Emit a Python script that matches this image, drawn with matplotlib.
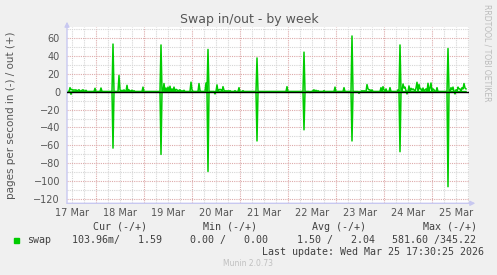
import numpy as np
import matplotlib
matplotlib.use('Agg')
import matplotlib.pyplot as plt

# hours since 17 Mar 00:00, 30 min steps; only non-zero samples listed
out_hours = [11, 11.5, 12, 12.5, 13, 13.5, 14, 15, 15.5, 16, 17, 17.5, 18, 19,
             23.5, 26.5, 32.5, 35.5, 36, 37, 38, 39.5, 40.5, 41.5, 42, 43, 47.5,
             56.5, 58, 59, 60, 61, 62, 63, 64, 64.5, 65.5, 66, 67, 68, 71.5, 72,
             75.5, 76, 79, 80, 84.5, 85.5, 86, 86.5, 87.5, 88, 89, 90, 91, 93.5,
             95.5, 97.5, 104.5, 119.5, 128, 132.5, 133, 134, 135, 138, 143.5, 148,
             152, 157, 158, 159.5, 160, 160.5, 161, 162, 166.5, 167.5, 168, 169,
             171, 175, 176, 177.5, 178, 178.5, 179, 180.5, 181.5, 182, 182.5, 183,
             184, 184.5, 185.5, 186, 186.5, 187.5, 188.5, 189, 190, 191, 191.5,
             192.5, 193, 194.5, 200, 201.5, 202, 202.5, 204, 205, 205.5, 206, 207,
             207.5, 208, 208.5, 209]
out_vals = [4.4, 2, 2.5, 1.5, 2, 1.5, 2, 1.5, 2, 1, 1.5, 2, 1, 1.5,
            3.7, 4, 53, 18, 2, 1.5, 2, 7, 2, 1, 1.5, 1, 5,
            52, 9, 4, 5, 6, 3, 5, 2.5, 2, 1.5, 2, 1, 1.5, 10.5, 2,
            9, 1, 9.6, 47, 7.5, 2, 2.5, 2, 5.5, 1.5, 1, 1, 1, 1,
            4.4, 1, 37.5, 5.5, 44, 1, 2, 1.5, 1, 1, 5, 4.4,
            62, 1, 1, 7.8, 3, 2, 2, 2, 4.4, 5.5, 2, 3,
            4.4, 2, 52, 8.5, 4, 5, 1, 6.3, 3.7, 2, 3, 2,
            4, 10.4, 8, 3, 3, 4, 2, 3, 9.3, 4, 9.6,
            3, 2, 4.4, 48, 4.4, 2, 5, 2, 5, 3, 3, 4.4,
            3, 9, 4, 3]
in_hours = [11.5, 32.5, 56.5, 80, 83.5, 104.5, 128, 131, 152, 155.5, 176, 179.5, 200, 203.5]
in_vals = [3, 63, 70, 89, 2.6, 55, 42.6, 1, 55, 2, 67, 2.6, 106, 2.6]

day_labels = ['17 Mar', '18 Mar', '19 Mar', '20 Mar', '21 Mar', '22 Mar',
              '23 Mar', '24 Mar', '25 Mar']
y_ticks = [-120, -100, -80, -60, -40, -20, 0, 20, 40, 60]

t = np.arange(9.5, 209.25, 0.5)
out_s = np.zeros_like(t)
in_s = np.zeros_like(t)
for h, v in zip(out_hours, out_vals):
    out_s[np.argmin(np.abs(t - h))] = v
for h, v in zip(in_hours, in_vals):
    in_s[np.argmin(np.abs(t - h))] = -v

W, H = 497, 275
fig = plt.figure(figsize=(W / 100, H / 100), dpi=100, facecolor='#F0F0F0')
ax = fig.add_axes([67 / W, 1 - 203.3 / H, (468.5 - 67) / W, (203.3 - 27) / H])
ax.set_facecolor('white')
ax.set_xlim(9.5, 210.25)
ax.set_ylim(-124.5, 72)

red = '#DDAAAA'
gray = '#D6D6D6'
for h in range(12, 211, 6):
    ax.axvline(h, color=red if h % 24 == 0 else gray, lw=0.8,
               ls=(0, (1, 1)), zorder=1)
for v in range(-120, 71, 10):
    if v == 0:
        continue
    ax.axhline(v, color=red if v % 20 == 0 else gray, lw=0.8,
               ls=(0, (1, 1)), zorder=1)

ax.plot(t, out_s, color='#00CC00', lw=1.1, zorder=3)
ax.plot(t, in_s, color='#00CC00', lw=1.1, zorder=3)
ax.axhline(0, color='black', lw=1, zorder=4)

for s in ax.spines.values():
    s.set_visible(False)
ax.set_xticks([12 + 24 * i for i in range(len(day_labels))], day_labels)
ax.set_yticks(y_ticks)
ax.tick_params(length=0, labelsize=7, colors='#555555')
ax.tick_params(axis='y', pad=5)
ax.tick_params(axis='x', pad=3.5)

axis_c = '#C8C8F0'
ax.annotate('', xy=(0, 1.03), xytext=(0, 0), xycoords='axes fraction',
            arrowprops=dict(arrowstyle='-|>', color=axis_c, lw=1,
                            mutation_scale=7, shrinkA=0, shrinkB=0),
            annotation_clip=False)
ax.annotate('', xy=(1.017, 0), xytext=(0, 0), xycoords='axes fraction',
            arrowprops=dict(arrowstyle='-|>', color=axis_c, lw=1,
                            mutation_scale=7, shrinkA=0, shrinkB=0),
            annotation_clip=False)

fig.text(249 / W, 1 - 19 / H, 'Swap in/out - by week', ha='center', va='center',
         fontsize=9, color='#555555')
fig.text(11 / W, 1 - 115 / H, 'pages per second in (-) / out (+)', rotation=90,
         ha='center', va='center', fontsize=7.5, color='#555555')
fig.text(487 / W, 1 - 53 / H, 'RRDTOOL / TOBI OETIKER', rotation=-90,
         ha='center', va='center', fontsize=5.5, color='#BBBBBB')

mono = dict(family='DejaVu Sans Mono', fontsize=7.2, color='#404040', va='center')
for x, s in [(93, 'Cur (-/+)'), (203, 'Min (-/+)'), (312, 'Avg (-/+)'), (423, 'Max (-/+)')]:
    fig.text(x / W, 1 - 226.7 / H, s, **mono)
for x, s in [(27, 'swap'), (72, '103.96m/   1.59'), (190, '0.00 /   0.00'),
             (297, '1.50 /   2.04'), (392, '581.60 /345.22')]:
    fig.text(x / W, 1 - 240 / H, s, **mono)
fig.text(262 / W, 1 - 251.7 / H, 'Last update: Wed Mar 25 17:30:25 2026', **mono)
fig.patches.append(plt.Rectangle((14 / W, 1 - 242.5 / H), 5 / W, 5 / H,
                                 transform=fig.transFigure, color='#00CC00'))
fig.text(248 / W, 1 - 264 / H, 'Munin 2.0.73', ha='center', va='center',
         fontsize=5.5, color='#C0C0C0')

fig.savefig('out.png', dpi=100, facecolor=fig.get_facecolor())
